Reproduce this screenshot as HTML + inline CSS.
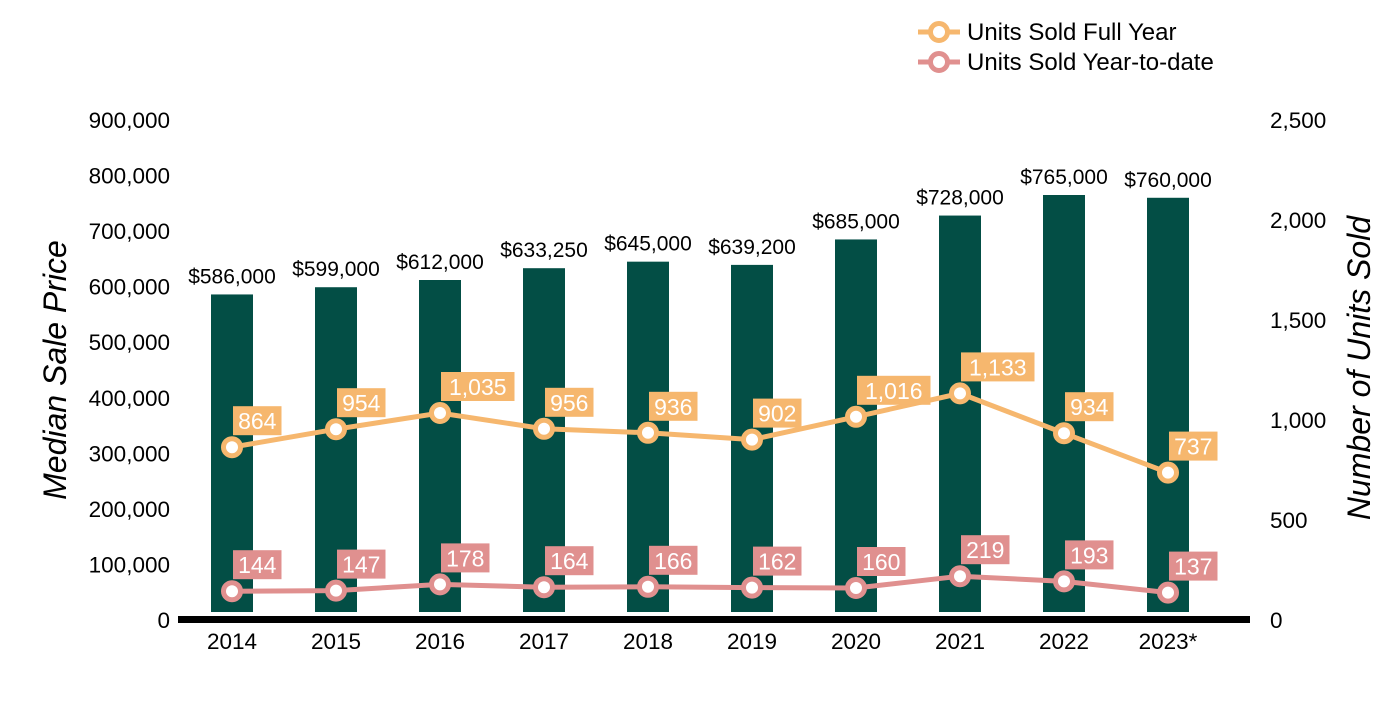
<!DOCTYPE html>
<html><head><meta charset="utf-8"><style>
body{margin:0;background:#fff;width:1400px;height:700px;overflow:hidden}
svg text{font-family:"Liberation Sans",Arial,sans-serif}
</style></head><body>
<svg id="chart" width="1400" height="700" xmlns="http://www.w3.org/2000/svg"></svg>
<script>
const years=["2014","2015","2016","2017","2018","2019","2020","2021","2022","2023*"];
const prices=[586000,599000,612000,633250,645000,639200,685000,728000,765000,760000];
const fullYear=[864,954,1035,956,936,902,1016,1133,934,737];
const ytd=[144,147,178,164,166,162,160,219,193,137];
const leftTicks=[0,100000,200000,300000,400000,500000,600000,700000,800000,900000];
const rightTicks=[0,500,1000,1500,2000,2500];

const NS="http://www.w3.org/2000/svg";
const svg=document.getElementById('chart');
const y0=620,yTop=120;
const yL=v=>y0-v/900000*(y0-yTop);
const yR=v=>y0-v/2500*(y0-yTop);
const xC=i=>232+i*104;
function mk(tag,attrs,parent){const e=document.createElementNS(NS,tag);for(const k in attrs)e.setAttribute(k,attrs[k]);(parent||svg).appendChild(e);return e;}
const fmt=n=>n.toLocaleString('en-US');

leftTicks.forEach(v=>{const t=mk('text',{x:170,y:yL(v)+8,'text-anchor':'end','font-size':22.5,fill:'#000'});t.textContent=fmt(v);

});
rightTicks.forEach(v=>{const t=mk('text',{x:1270,y:yR(v)+8,'font-size':22.5,fill:'#000'});t.textContent=fmt(v);

});

let t=mk('text',{x:0,y:0,'font-size':32,'font-style':'italic',transform:'translate(66,370) rotate(-90)','text-anchor':'middle'});t.textContent='Median Sale Price';

t=mk('text',{x:0,y:0,'font-size':32,'font-style':'italic',transform:'translate(1370,368) rotate(-90)','text-anchor':'middle'});t.textContent='Number of Units Sold';


prices.forEach((p,i)=>{
 const r=mk('rect',{x:xC(i)-21,y:yL(p),width:42,height:612-yL(p),fill:'#034E45'});
 
 
 const l=mk('text',{x:xC(i),y:yL(p)-11,'text-anchor':'middle','font-size':21,fill:'#000'});l.textContent='$'+fmt(p);
 
 
 const xl=mk('text',{x:xC(i),y:649,'text-anchor':'middle','font-size':22.5,fill:'#000'});xl.textContent=years[i];
 
 
});
const ax=mk('rect',{x:178,y:616,width:1072,height:7,fill:'#000'});


function series(vals,color,name){
 const pl=mk('polyline',{points:vals.map((v,i)=>xC(i)+','+yR(v)).join(' '),fill:'none',stroke:color,'stroke-width':5});
 
 
 vals.forEach((v,i)=>{
  const c=mk('circle',{cx:xC(i),cy:yR(v),r:8.5,fill:'#fff',stroke:color,'stroke-width':5});
  
  
  const s=fmt(v);const w=s.length*12.5+11;
  const b=mk('rect',{x:xC(i)+1,y:yR(v)-41,width:w,height:29,fill:color});
  
  
  const tx=mk('text',{x:xC(i)+1+w/2,y:yR(v)-18,'text-anchor':'middle','font-size':23,fill:'#fff'});tx.textContent=s;
  
  
 });
}
series(fullYear,'#F6B76E','full-year');
series(ytd,'#E0908F','ytd');

[['Units Sold Full Year','#F6B76E',32],['Units Sold Year-to-date','#E0908F',62]].forEach(([lab,c,y])=>{
 const g=mk('g',{});
 
 
 mk('line',{x1:918,y1:y,x2:960,y2:y,stroke:c,'stroke-width':5},g);
 mk('circle',{cx:939,cy:y,r:8.5,fill:'#fff',stroke:c,'stroke-width':5},g);
 const tt=mk('text',{x:967,y:y+8,'font-size':24,fill:'#000'},g);tt.textContent=lab;
});
</script>
</body></html>
